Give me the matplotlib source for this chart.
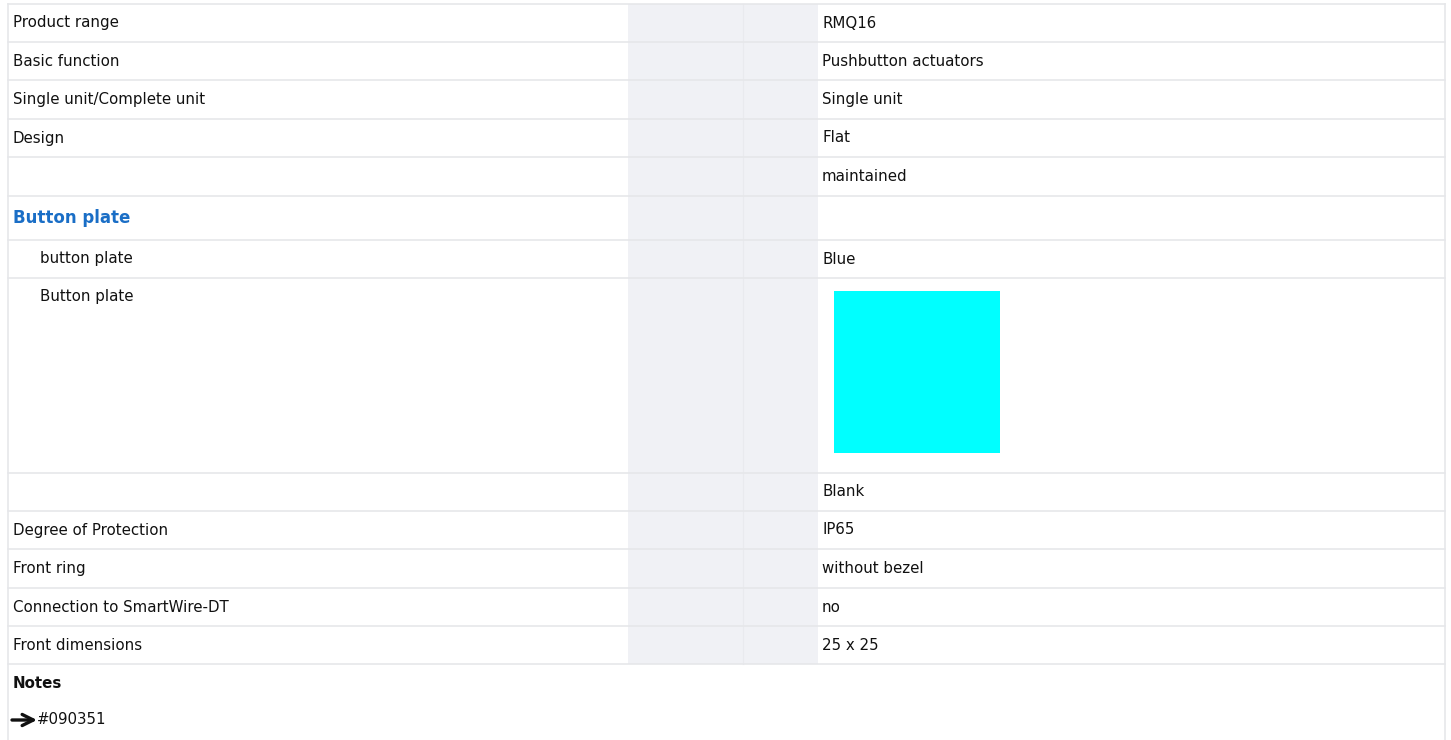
import matplotlib
matplotlib.use("Agg")
import matplotlib.pyplot as plt
from matplotlib.patches import Rectangle
from matplotlib import font_manager

# ---- data ----
labels = ["Product range", "Basic function", "Single unit/Complete unit", "Design", "",
          "Button plate", "button plate", "Button plate", "",
          "Degree of Protection", "Front ring", "Connection to SmartWire-DT", "Front dimensions"]
values = ["RMQ16", "Pushbutton actuators", "Single unit", "Flat", "maintained",
          "", "Blue", "", "Blank",
          "IP65", "without bezel", "no", "25 x 25"]
row_kinds = ["plain", "plain", "plain", "plain", "plain",
             "heading", "indent", "indent_swatch", "plain",
             "plain", "plain", "plain", "plain"]
row_edges = [4, 42, 80, 119, 157, 196, 240, 278, 473, 511, 549, 588, 626, 664]
swatch_color = "#00ffff"
notes_title = "Notes"
notes_text = "#090351"

W, H = 1451, 740
fig = plt.figure(figsize=(W / 100, H / 100), dpi=100)
ax = fig.add_axes([0, 0, 1, 1])
ax.set_xlim(0, W)
ax.set_ylim(H, 0)
ax.axis("off")

avail = {(f.name, f.stretch) for f in font_manager.fontManager.ttflist}
names = {n for n, s in avail}
if "Liberation Sans Narrow" in names:
    fam, stretch, sz, hsz = ["Liberation Sans Narrow", "DejaVu Sans"], "normal", 12, 16
elif ("DejaVu Sans", "condensed") in avail or ("DejaVu Sans", "semi-condensed") in avail:
    fam, stretch, sz, hsz = ["DejaVu Sans"], "semi-condensed", 10.8, 12.0
else:
    fam, stretch, sz, hsz = ["Roboto", "DejaVu Sans"], "condensed", 11, 14.5

txt_c = "#111111"
line_c = "#e6e7ea"
gray_c = "#f0f1f5"
x_left, x_right = 8, 1445
g0, g1, gmid = 628, 818, 743

kw = dict(family=fam, fontstretch=stretch, zorder=4, ha="left", va="center")

# gray column
ax.add_patch(Rectangle((g0, row_edges[0]), g1 - g0, row_edges[-1] - row_edges[0],
                       facecolor=gray_c, edgecolor="none", zorder=1))
ax.plot([gmid, gmid], [row_edges[0], row_edges[-1]], color="#e9eaee", lw=0.8, zorder=2)

# horizontal lines
for y in row_edges:
    ax.plot([x_left, x_right], [y, y], color=line_c, lw=1.2, zorder=3)
# borders
ax.plot([x_left, x_left], [row_edges[0], H], color=line_c, lw=1.2, zorder=3)
ax.plot([x_right, x_right], [row_edges[0], H], color=line_c, lw=1.2, zorder=3)

for i, (lab, val, kind) in enumerate(zip(labels, values, row_kinds)):
    top, bot = row_edges[i], row_edges[i + 1]
    yc = (top + bot) / 2
    if kind == "heading":
        ax.text(13, yc, lab, fontsize=hsz, fontweight="bold", color="#1a6ec6", **kw)
    elif kind.startswith("indent"):
        ty = yc if kind == "indent" else top + 19
        ax.text(40, ty, lab, fontsize=sz, color=txt_c, **kw)
    else:
        ax.text(13, yc, lab, fontsize=sz, color=txt_c, **kw)
    if val:
        ax.text(822, yc, val, fontsize=sz, color=txt_c, **kw)
    if kind == "indent_swatch":
        ax.add_patch(Rectangle((834, top + 13), 166, 162, facecolor=swatch_color,
                               edgecolor="none", zorder=4))

ax.text(13, 684, notes_title, fontsize=sz, fontweight="bold", color=txt_c, **kw)
ax.annotate("", xy=(37, 720), xytext=(12, 720),
            arrowprops=dict(arrowstyle="->", color=txt_c, lw=2.4, mutation_scale=20,
                            shrinkA=0, shrinkB=0),
            zorder=4)
ax.text(37, 720, notes_text, fontsize=sz, color=txt_c, **kw)

fig.savefig("out.png", dpi=100)
